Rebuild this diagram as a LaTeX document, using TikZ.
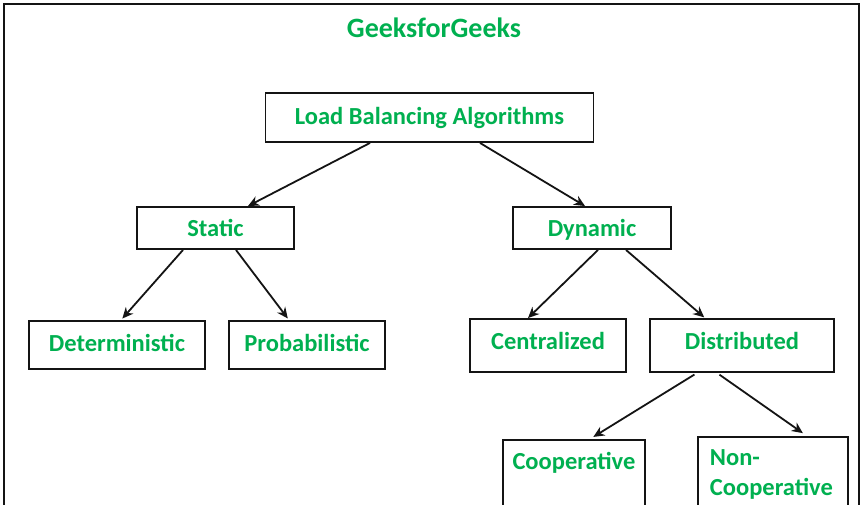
\documentclass[tikz,border=0pt]{standalone}
\usepackage{fontspec}
\setmainfont{Carlito}
\usetikzlibrary{arrows.meta}
\definecolor{ggreen}{RGB}{0,176,80}
\definecolor{edge}{RGB}{20,20,20}
\begin{document}
\begin{tikzpicture}[x=1pt,y=-1pt,
  lbl/.style={font=\fontsize{24.5}{30}\selectfont\bfseries, text=ggreen},
  box/.style={lbl, draw=edge, line width=1.9pt, inner sep=0pt},
  arr/.style={-{Stealth[length=11pt,width=10pt]}, line width=1.8pt, draw=edge}]
\useasboundingbox (0,0) rectangle (864,505);
\clip (0,0) rectangle (864,505);
\fill[white] (0,0) rectangle (864,505);
\draw[line width=2.2pt, edge] (4,4) rectangle (859,560);
\node[lbl, font=\fontsize{28}{32}\selectfont\bfseries] (title) at (434,28) {GeeksforGeeks};
\node[box, minimum width=328, minimum height=49] (lba) at (429.5,117.5) {Load Balancing Algorithms};
\node[box, minimum width=157, minimum height=42] (static) at (215.5,228) {Static};
\node[box, minimum width=158, minimum height=42, text height=16pt, text depth=0pt] (dynamic) at (592,228) {Dynamic};
\node[box, minimum width=176, minimum height=48, text height=16pt, text depth=4pt] (det) at (117,345) {Deterministic};
\node[box, minimum width=156, minimum height=48, text height=16pt, text depth=4pt] (prob) at (307,345) {Probabilistic};
\node[box, minimum width=156, minimum height=53, text height=16pt, text depth=8pt] (cent) at (548,345.5) {Centralized};
\node[box, minimum width=184, minimum height=53, text height=16pt, text depth=8pt] (dist) at (742,345.5) {Distributed};
\node[box, anchor=north west, text width=142, align=center, inner xsep=0pt, inner ysep=14pt, text height=16pt, text depth=80pt] (coop) at (502,439) {Cooperative};
\node[box, anchor=north west, text width=126, align=left, inner xsep=12pt, inner ysep=13pt, text height=16pt, text depth=80pt] (noncoop) at (697,436) {Non-\\Cooperative};
\draw[arr] ([xshift=-59.5pt]lba.south) -- ([xshift=32.5pt]static.north);
\draw[arr] ([xshift=50.5pt]lba.south) -- ([xshift=-7pt]dynamic.north);
\draw[arr, shorten >=2pt] ([xshift=-32.5pt]static.south) -- ([xshift=4pt]det.north);
\draw[arr, shorten >=2pt] ([xshift=20.5pt]static.south) -- ([xshift=-18pt]prob.north);
\draw[arr] ([xshift=6pt]dynamic.south) -- ([xshift=-20pt]cent.north);
\draw[arr, shorten >=1pt] ([xshift=34pt]dynamic.south) -- ([xshift=-37pt]dist.north);
\draw[arr, shorten <=3pt, shorten >=4pt] ([xshift=-45pt]dist.south) -- ([xshift=16pt]coop.north);
\draw[arr, shorten <=3pt, shorten >=5pt] ([xshift=-25pt]dist.south) -- ([xshift=34pt]noncoop.north);
\end{tikzpicture}
\end{document}
